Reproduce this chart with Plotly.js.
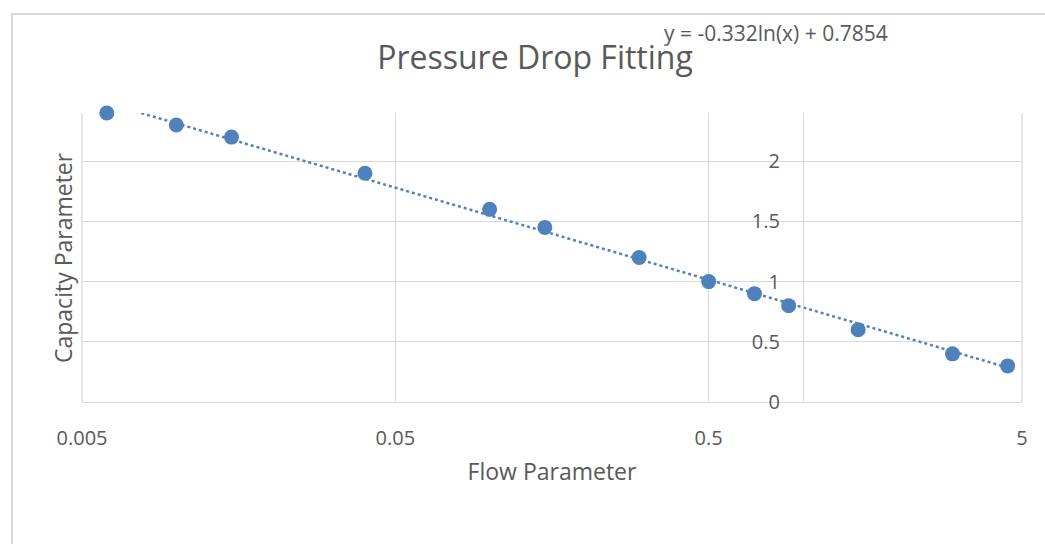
<!DOCTYPE html>
<html>
<head>
<meta charset="utf-8">
<script src="https://cdn.plot.ly/plotly-3.0.1.min.js"></script>
<style>
  html, body { margin: 0; padding: 0; background: #ffffff; }
  #chart { width: 1045px; height: 544px; }
</style>
</head>
<body>
<div id="chart"></div>
<script>
// Data
const flowParameter = [0.006, 0.01, 0.015, 0.04, 0.1, 0.15, 0.3, 0.5, 0.7, 0.9, 1.5, 3, 4.5];
const capacityParameter = [2.4, 2.3, 2.2, 1.9, 1.6, 1.45, 1.2, 1.0, 0.9, 0.8, 0.6, 0.4, 0.3];

// Logarithmic trendline shown on the chart: y = a ln(x) + b
const trendSlope = -0.332;
const trendIntercept = 0.7854;
const trendEquation = 'y = -0.332ln(x) + 0.7854';

// Tick values / labels
const xTickVals = [0.005, 0.05, 0.5, 5];
const xTickText = ['0.005', '0.05', '0.5', '5'];
const yTickVals = [0, 0.5, 1, 1.5, 2];
const yTickText = ['0', '0.5', '1', '1.5', '2'];

const chartTitle = 'Pressure Drop Fitting';
const xTitle = 'Flow Parameter';
const yTitle = 'Capacity Parameter';

// The trend is a straight line on a log x axis, so its two ends describe it
const trendX = [Math.min(...flowParameter), Math.max(...flowParameter)];
const trendY = trendX.map(x => trendSlope * Math.log(x) + trendIntercept);

const blue = '#4f81bd';
const grid = '#d9d9d9';
const textGray = '#595959';
const font = '"Open Sans", "Liberation Sans", sans-serif';

const traces = [
  {
    x: trendX, y: trendY, type: 'scatter', mode: 'lines',
    line: { color: blue, width: 2.5, dash: 'dot' },
    hoverinfo: 'skip', showlegend: false, cliponaxis: true
  },
  {
    x: flowParameter, y: capacityParameter, type: 'scatter', mode: 'markers',
    marker: { color: blue, size: 15 },
    showlegend: false, cliponaxis: false
  }
];

const layout = {
  width: 1045, height: 544,
  margin: { l: 82, r: 23, t: 113, b: 142 },
  paper_bgcolor: '#ffffff', plot_bgcolor: '#ffffff',
  font: { family: font, color: textGray },
  showlegend: false,
  title: {
    text: chartTitle,
    font: { family: font, size: 32, color: textGray },
    x: 535 / 1045, xanchor: 'center',
    xref: 'container', yref: 'container',
    y: 1 - 58 / 544, yanchor: 'middle'
  },
  xaxis: {
    type: 'log',
    range: [Math.log10(0.005), Math.log10(5)],
    tickmode: 'array', tickvals: xTickVals, ticktext: xTickText,
    showgrid: true, gridcolor: grid, gridwidth: 1.3,
    showline: true, linecolor: grid, linewidth: 1.3,
    zeroline: false,
    ticks: 'outside', ticklen: 18, tickcolor: 'rgba(0,0,0,0)',
    tickfont: { family: font, size: 20, color: textGray },
    title: { text: xTitle, font: { family: font, size: 23, color: textGray }, standoff: 13 },
    fixedrange: true
  },
  yaxis: {
    range: [0, 2.4],
    anchor: 'free',
    position: (0 - Math.log10(0.005)) / (Math.log10(5) - Math.log10(0.005)),
    tickmode: 'array', tickvals: yTickVals, ticktext: yTickText,
    showgrid: true, gridcolor: grid, gridwidth: 1.3,
    showline: true, linecolor: grid, linewidth: 1.3,
    zeroline: false,
    ticks: 'outside', ticklen: 19, tickcolor: 'rgba(0,0,0,0)',
    tickfont: { family: font, size: 20, color: textGray },
    fixedrange: true
  },
  shapes: [
    // plot-area left and right edges
    { type: 'line', xref: 'paper', yref: 'paper', x0: 0, x1: 0, y0: 0, y1: 1, line: { color: grid, width: 1.3 }, layer: 'below' },
    { type: 'line', xref: 'paper', yref: 'paper', x0: 1, x1: 1, y0: 0, y1: 1, line: { color: grid, width: 1.3 }, layer: 'below' },
    // chart-area border (extends past the picture on right and bottom)
    { type: 'rect', xref: 'paper', yref: 'paper',
      x0: (12 - 82) / 940, x1: 1.2, y0: -1, y1: 1 + (113 - 14) / 289,
      line: { color: grid, width: 2 }, fillcolor: 'rgba(0,0,0,0)', layer: 'below' }
  ],
  annotations: [
    {
      text: trendEquation, xref: 'paper', yref: 'paper',
      x: (776 - 82) / 940, y: 1 + (113 - 33) / 289,
      xanchor: 'center', yanchor: 'middle', showarrow: false,
      font: { family: font, size: 21, color: textGray }
    },
    {
      text: yTitle, xref: 'paper', yref: 'paper',
      x: (63 - 82) / 940, y: 1 - (258 - 113) / 289,
      xanchor: 'center', yanchor: 'middle', showarrow: false, textangle: -90,
      font: { family: font, size: 23, color: textGray }
    }
  ]
};

Plotly.newPlot('chart', traces, layout, { displayModeBar: false, staticPlot: true });
</script>
</body>
</html>
